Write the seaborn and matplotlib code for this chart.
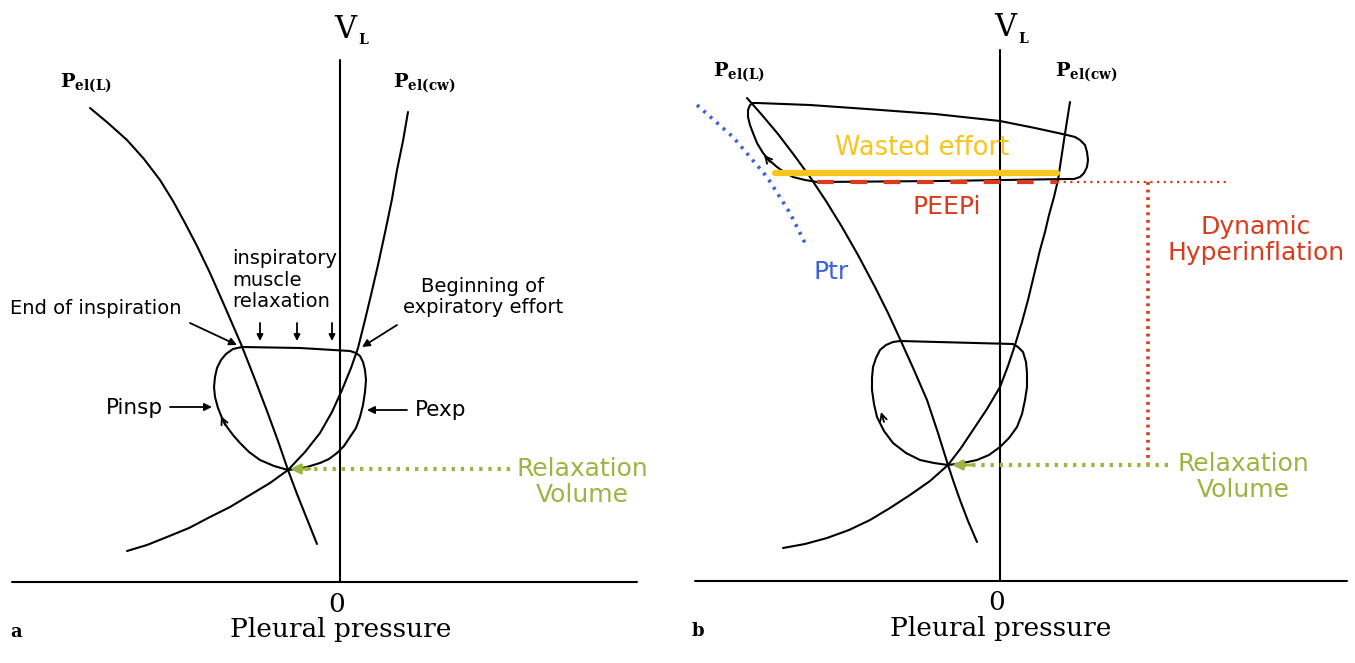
import matplotlib
matplotlib.use("Agg")
import matplotlib.pyplot as plt
import seaborn as sns

# pressure (x, 0 = V_L axis) and volume (y, 0 = pressure axis), arbitrary units
# ---------- panel a ----------
pel_l_a_x = [-25.0, -23.2, -21.3, -19.6, -18.0, -16.7, -15.5, -14.3, -13.0, -11.5, -9.9,
             -8.6, -7.3, -6.2, -5.2, -4.3, -3.3, -2.3]
pel_l_a_y = [47.4, 45.9, 44.2, 42.3, 40.2, 38.1, 35.9, 33.6, 30.9, 27.5, 23.8,
             20.5, 17.1, 14.1, 11.2, 8.8, 6.3, 3.8]
pel_cw_a_x = [-21.3, -19.3, -17.3, -15.1, -13.0, -11.0, -9.0, -7.0, -5.2, -3.5, -2.0, -0.8,
              0.2, 1.1, 1.8, 2.5, 3.1, 3.8, 4.6, 5.2, 5.7, 6.3, 6.8]
pel_cw_a_y = [3.1, 3.7, 4.5, 5.4, 6.5, 7.5, 8.7, 9.9, 11.2, 13.0, 14.9, 17.0,
              19.2, 21.4, 23.4, 26.2, 28.7, 31.7, 35.4, 38.3, 41.2, 44.1, 47.0]
loop_a_x = [-5.2, -6.6, -8.0, -9.1, -10.0, -10.7, -11.3, -11.8, -12.2, -12.5, -12.6, -12.5,
            -12.3, -11.9, -11.4, -10.7, -9.8, -4.0, 1.0, 1.6, 2.0, 2.3, 2.5, 2.6, 2.5, 2.3,
            2.0, 1.6, 1.0, 0.4, -0.3, -1.1, -2.0, -3.3, -4.3, -5.2]
loop_a_y = [11.2, 11.6, 12.2, 13.0, 13.9, 14.7, 15.5, 16.4, 17.4, 18.5, 19.5, 20.5,
            21.4, 22.2, 22.8, 23.3, 23.5, 23.4, 23.1, 22.9, 22.6, 22.0, 21.2, 20.2, 19.0, 17.7,
            16.5, 15.4, 14.5, 13.6, 12.9, 12.3, 11.9, 11.5, 11.3, 11.2]
relax_a_x = [17.0, -4.6]
relax_a_y = [11.3, 11.3]
relax_arrows_x = [-8.0, -4.3, -0.8]

# ---------- panel b ----------
pel_l_b_x = [-25.3, -23.8, -22.2, -20.6, -19.0, -17.4, -15.8, -14.2, -12.5, -11.2, -10.0,
             -8.6, -7.3, -6.2, -5.2, -4.6, -4.0, -3.2, -2.3]
pel_l_b_y = [48.3, 46.6, 44.7, 42.6, 40.4, 38.0, 35.4, 32.6, 29.4, 26.8, 24.2,
             21.1, 18.1, 14.8, 11.6, 9.8, 8.1, 6.0, 3.9]
pel_cw_b_x = [-21.7, -19.5, -17.3, -15.1, -13.0, -11.0, -9.0, -7.0, -5.2, -3.9, -2.7, -1.3,
              0.0, 0.8, 1.5, 2.2, 2.8, 3.4, 4.0, 4.5, 4.9, 5.4, 5.8, 6.1, 6.4, 6.7, 7.0]
pel_cw_b_y = [3.3, 3.7, 4.3, 5.1, 6.1, 7.3, 8.6, 10.0, 11.6, 13.3, 15.1, 17.2,
              19.4, 21.5, 23.6, 25.9, 28.1, 30.6, 33.1, 34.9, 36.6, 38.4, 40.1, 42.1, 44.1, 46.0, 47.9]
loop_low_x = [-5.2, -6.6, -8.0, -9.4, -10.7, -11.6, -12.3, -12.6, -12.8, -12.8, -12.7, -12.4,
              -12.0, -11.4, -10.7, -10.0, 1.3, 1.8, 2.3, 2.6, 2.7, 2.7, 2.5, 2.2, 1.7, 0.9,
              0.0, -1.1, -2.3, -3.7, -5.2]
loop_low_y = [11.6, 11.8, 12.1, 12.8, 13.8, 15.0, 16.4, 17.7, 19.1, 20.3, 21.4, 22.3,
              23.1, 23.6, 23.9, 24.0, 23.7, 23.4, 22.9, 21.9, 20.8, 19.4, 18.1, 16.7, 15.4, 14.3,
              13.4, 12.6, 12.1, 11.8, 11.6]
loop_high_x = [6.7, -6.0, -18.3, -19.5, -20.7, -21.6, -22.3, -23.1, -23.7, -24.3, -24.7, -25.0,
               -25.2, -25.2, -25.0, -24.7, -24.3, -19.0, -13.3, -6.5, 0.0, 3.5, 6.7, 7.5, 8.0,
               8.5, 8.7, 8.8, 8.7, 8.4, 8.0, 7.4, 6.7]
loop_high_y = [40.2, 40.0, 39.9, 40.1, 40.4, 40.9, 41.4, 42.1, 42.8, 43.8, 44.8, 45.6,
               46.4, 47.1, 47.6, 47.8, 47.8, 47.6, 47.2, 46.7, 46.0, 45.3, 44.6, 44.4, 44.1,
               43.6, 42.9, 42.1, 41.4, 40.8, 40.4, 40.2, 40.2]
wasted_x = [-22.5, 5.7]
wasted_y = [40.8, 40.8]
peepi_x = [-18.3, 5.7]
peepi_y = [39.9, 39.9]
dh_top_x = [5.7, 23.0]
dh_top_y = [39.9, 39.9]
dh_vert_x = [14.8, 14.8]
dh_vert_y = [39.9, 11.6]
relax_b_x = [16.8, -4.4]
relax_b_y = [11.6, 11.6]
ptr_x = [-30.3, -26.7, -23.3, -21.0, -19.3]
ptr_y = [47.6, 44.4, 40.4, 36.8, 33.4]

GREEN = "#9bb443"
RED = "#dc3a1c"
YELLOW = "#f7c51c"
BLUE = "#3a62dc"

sns.set_style("white")
plt.rcParams["font.family"] = ["DejaVu Sans"]
plt.rcParams["text.color"] = "black"
plt.rcParams["mathtext.fontset"] = "dejavuserif"

fig = plt.figure(figsize=(13.55, 6.63), dpi=100)
ax_a = fig.add_axes([0, 0, 0.5, 1])
ax_b = fig.add_axes([0.5, 0, 0.5, 1])
ax_a.set_xlim(-34.0, 33.75)
ax_a.set_ylim(-8.1, 58.2)
ax_b.set_xlim(-32.25, 35.5)
ax_b.set_ylim(-8.2, 58.1)

black = dict(color="black", lw=1.5, sort=False, estimator=None,
             solid_joinstyle="round", solid_capstyle="round")


def line(ax, x, y, **kw):
    sns.lineplot(x=x, y=y, ax=ax, legend=False, **kw)


def arrow(ax, tip, tail, style="-|>", color="black", scale=12, lw=1.3):
    ax.annotate("", xy=tip, xytext=tail,
                arrowprops=dict(arrowstyle=style, color=color, lw=lw,
                                mutation_scale=scale, shrinkA=0, shrinkB=0))


def frame(ax, x0, x1, top, letter, lx):
    line(ax, [x0, x1], [0, 0], **black)
    line(ax, [0, 0], [0, top], **black)
    ax.text(0.5, 55.3, "V", family="DejaVu Serif", fontsize=22, ha="center", va="center")
    ax.text(2.3, 54.2, "L", family="DejaVu Serif", fontsize=10, fontweight="bold",
            ha="center", va="center")
    ax.text(-0.3, -2.2, "0", family="DejaVu Serif", fontsize=19, ha="center", va="center")
    ax.text(0.1, -5.5, "Pleural pressure", family="DejaVu Serif", fontsize=19,
            ha="center", va="baseline")
    ax.text(lx, -5.5, letter, family="DejaVu Serif", fontsize=13, fontweight="bold",
            ha="left", va="baseline")


# ---------------- panel a ----------------
ax = ax_a
frame(ax, -32.8, 29.7, 52.2, "a", -33.0)
line(ax, pel_l_a_x, pel_l_a_y, **black)
line(ax, pel_cw_a_x, pel_cw_a_y, **black)
line(ax, loop_a_x, loop_a_y, **black)
arrow(ax, (-11.9, 16.6), (-11.5, 15.7), style="->", scale=12)

ax.text(-28.0, 49.9, r"$\mathbf{P}_{\mathbf{el(L)}}$", fontsize=14, ha="left", va="center")
ax.text(5.3, 49.9, r"$\mathbf{P}_{\mathbf{el(cw)}}$", fontsize=14, ha="left", va="center")

ax.text(-10.8, 30.2, "inspiratory\nmuscle\nrelaxation", fontsize=14, ha="left",
        va="center", linespacing=1.15)
for xa in relax_arrows_x:
    arrow(ax, (xa, 24.1), (xa, 25.9), scale=9)
ax.text(-33.0, 27.4, "End of inspiration", fontsize=14, ha="left", va="center")
arrow(ax, (-10.3, 23.7), (-15.0, 25.9), scale=11)
ax.text(14.3, 28.5, "Beginning of\nexpiratory effort", fontsize=14, ha="center",
        va="center", linespacing=1.15)
arrow(ax, (2.2, 23.5), (5.7, 25.7), scale=11)

ax.text(-17.7, 17.4, "Pinsp", fontsize=15.5, ha="right", va="center")
arrow(ax, (-12.8, 17.5), (-17.0, 17.5), scale=11)
ax.text(7.5, 17.2, "Pexp", fontsize=15.5, ha="left", va="center")
arrow(ax, (2.7, 17.2), (6.7, 17.2), scale=11)

line(ax, relax_a_x, relax_a_y, color=GREEN, lw=3, sort=False, estimator=None,
     linestyle=(0, (0.8, 1.4)))
arrow(ax, (-5.0, 11.3), (-3.0, 11.3), color=GREEN, scale=15, lw=2)
ax.text(24.2, 10.0, "Relaxation\nVolume", fontsize=18, color=GREEN, ha="center",
        va="center", linespacing=1.15)

# ---------------- panel b ----------------
ax = ax_b
frame(ax, -30.5, 34.7, 53.1, "b", -30.8)
line(ax, pel_l_b_x, pel_l_b_y, **black)
line(ax, pel_cw_b_x, pel_cw_b_y, **black)
line(ax, loop_low_x, loop_low_y, **black)
line(ax, loop_high_x, loop_high_y, **black)
arrow(ax, (-11.9, 16.9), (-11.6, 15.9), style="->", scale=12)
arrow(ax, (-23.6, 42.6), (-23.0, 41.9), style="->", scale=12)

ax.text(-28.7, 50.9, r"$\mathbf{P}_{\mathbf{el(L)}}$", fontsize=14, ha="left", va="center")
ax.text(5.5, 50.9, r"$\mathbf{P}_{\mathbf{el(cw)}}$", fontsize=14, ha="left", va="center")

line(ax, wasted_x, wasted_y, color=YELLOW, lw=4.5, sort=False, estimator=None)
line(ax, peepi_x, peepi_y, color=RED, lw=3, sort=False, estimator=None,
     linestyle=(0, (4, 4)))
line(ax, dh_top_x, dh_top_y, color=RED, lw=1.6, sort=False, estimator=None,
     linestyle=(0, (1, 2)))
line(ax, dh_vert_x, dh_vert_y, color=RED, lw=2.6, sort=False, estimator=None,
     linestyle=(0, (0.8, 1.3)))
line(ax, ptr_x, ptr_y, color=BLUE, lw=2.6, sort=False, estimator=None,
     linestyle=(0, (0.8, 1.6)))

ax.text(-7.8, 43.3, "Wasted effort", fontsize=18.5, color=YELLOW, ha="center", va="center")
ax.text(-5.3, 37.4, "PEEPi", fontsize=18, color=RED, ha="center", va="center")
ax.text(-16.9, 30.9, "Ptr", fontsize=18, color=BLUE, ha="center", va="center")
ax.text(25.6, 34.1, "Dynamic\nHyperinflation", fontsize=18, color=RED, ha="center",
        va="center", linespacing=1.15)

line(ax, relax_b_x, relax_b_y, color=GREEN, lw=3, sort=False, estimator=None,
     linestyle=(0, (0.8, 1.4)))
arrow(ax, (-4.8, 11.6), (-2.8, 11.6), color=GREEN, scale=15, lw=2)
ax.text(24.3, 10.4, "Relaxation\nVolume", fontsize=18, color=GREEN, ha="center",
        va="center", linespacing=1.15)

for a in (ax_a, ax_b):
    a.axis("off")

fig.savefig("out.png", dpi=100)
